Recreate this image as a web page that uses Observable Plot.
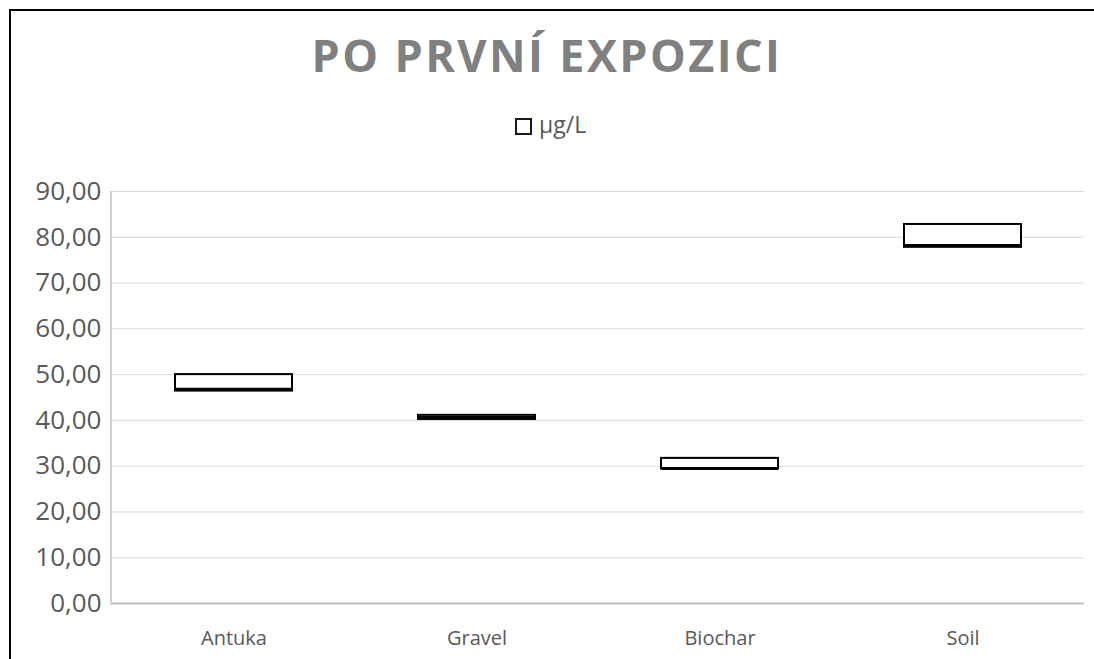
<!DOCTYPE html>
<html>
<head>
<meta charset="utf-8">
<script src="https://cdn.jsdelivr.net/npm/d3@7"></script>
<script src="https://cdn.jsdelivr.net/npm/@observablehq/plot@0.6"></script>
<style>
  html, body { margin: 0; background: #fff; overflow: hidden; }
  #wrap { position: relative; width: 1094px; height: 659px; overflow: hidden; background: #fff; font-family: "Open Sans", sans-serif; }
  #edge-top { position: absolute; left: 9px; top: 9px; width: 1085px; height: 2px; background: #000; }
  #edge-left { position: absolute; left: 9px; top: 9px; width: 2px; height: 650px; background: #000; }
  #title { position: absolute; left: 0; top: 32px; width: 1094px; text-align: center; font-size: 45px; line-height: 45px; font-weight: 700; color: #808080; letter-spacing: 2.4px; }
  #legend-swatch { position: absolute; left: 515px; top: 118px; width: 13px; height: 13px; border: 2px solid #1a1a1a; background: #fff; }
  #legend-text { position: absolute; left: 539px; top: 113px; font-size: 23px; line-height: 23px; color: #595959; }
  #chart { position: absolute; left: 12px; top: 150px; }
</style>
</head>
<body>
<div id="wrap">
  <div id="edge-top"></div>
  <div id="edge-left"></div>
  <div id="title">PO PRVNÍ EXPOZICI</div>
  <div id="legend-swatch"></div>
  <div id="legend-text">µg/L</div>
  <div id="chart"></div>
</div>
<script>
// Concentration after the first exposure (µg/L), box from lower to upper quartile
const categories = ["Antuka", "Gravel", "Biochar", "Soil"];
const lower = [46.4, 40.2, 29.4, 77.8];
const upper = [50.0, 41.1, 31.7, 82.8];
const median = [46.8, 40.65, 29.5, 78.2];
const yTicks = [0, 10, 20, 30, 40, 50, 60, 70, 80, 90];

const rows = categories.map((c, i) => ({category: c, lower: lower[i], upper: upper[i], median: median[i]}));
const fmt = d => d.toFixed(2).replace(".", ",");

// Left axis line drawn along the plot's left edge
const leftAxisLine = (index, scales, values, dims) => {
  const y0 = scales.y(0), y1 = scales.y(90);
  return d3.create("svg:line")
    .attr("x1", dims.marginLeft).attr("x2", dims.marginLeft)
    .attr("y1", y1).attr("y2", y0 + 2)
    .attr("stroke", "#d0d0d0").attr("stroke-width", 2)
    .node();
};

const chart = Plot.plot({
  width: 1082,
  height: 509,
  marginLeft: 99,
  marginRight: 10,
  marginTop: 41,
  marginBottom: 56,
  style: {background: "transparent", fontFamily: "'Open Sans', sans-serif", color: "#595959"},
  x: {domain: categories, paddingInner: 0.52, paddingOuter: 0.26, label: null},
  y: {domain: [0, 90], label: null},
  marks: [
    Plot.gridY(yTicks, {stroke: "#d9d9d9", strokeOpacity: 1, strokeWidth: 1}),
    Plot.ruleY([0], {stroke: "#bfbfbf", strokeWidth: 2}),
    leftAxisLine,
    Plot.axisY(yTicks, {tickSize: 0, tickPadding: 10, tickFormat: fmt, fontSize: 26, fill: "#595959", label: null}),
    Plot.axisX({tickSize: 0, tickPadding: 27, fontSize: 20, fill: "#595959", label: null}),
    Plot.barY(rows, {x: "category", y1: "lower", y2: "upper", fill: "#fff", stroke: "#000", strokeWidth: 2}),
    Plot.tickY(rows, {x: "category", y: "median", stroke: "#000", strokeWidth: 3})
  ]
});
document.getElementById("chart").appendChild(chart);
</script>
</body>
</html>
